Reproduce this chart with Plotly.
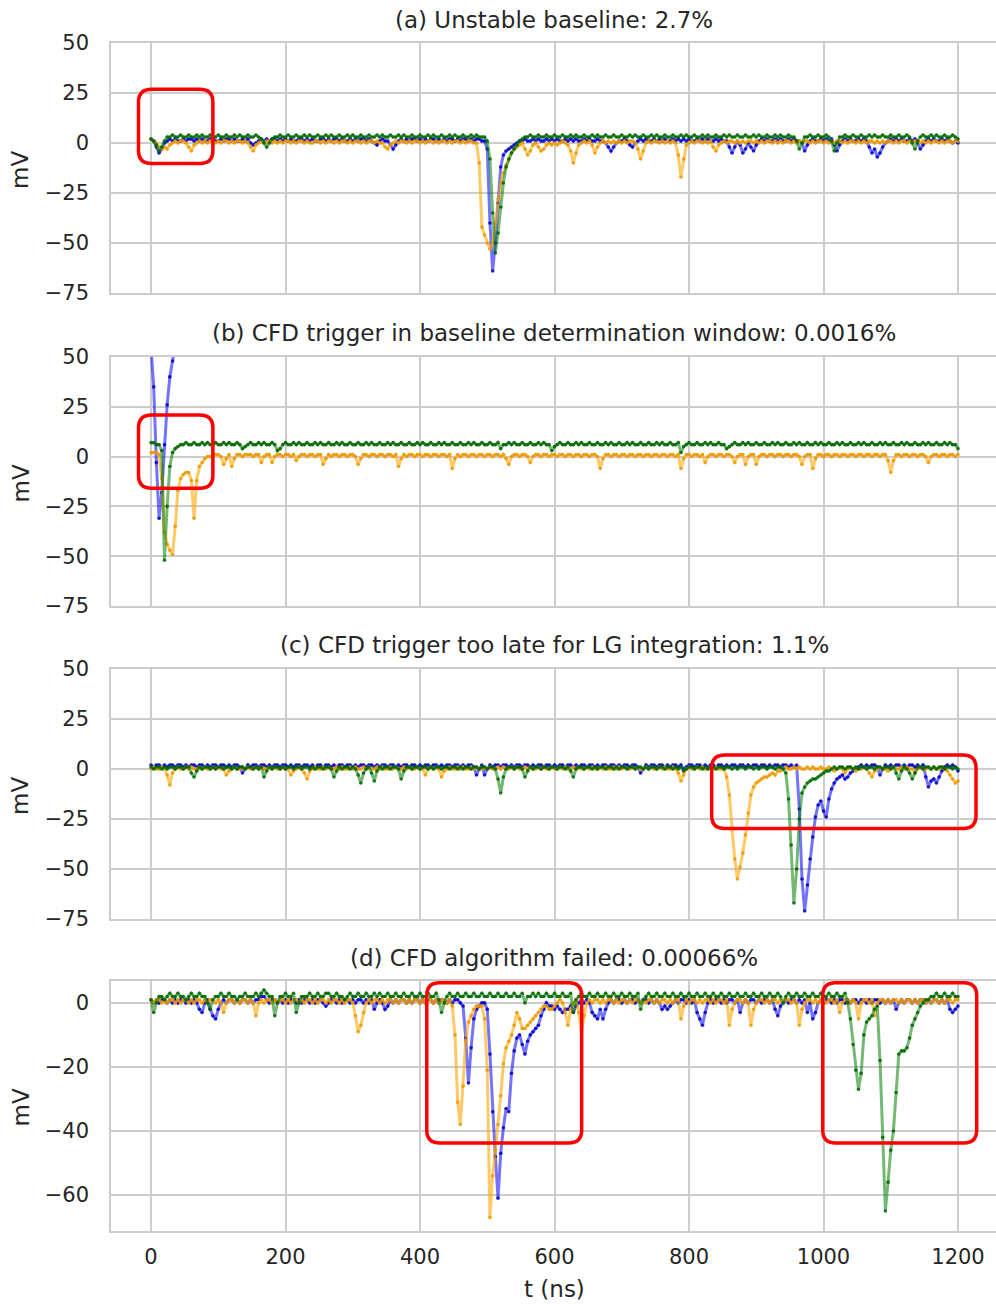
import plotly.graph_objects as go
from plotly.subplots import make_subplots

# Sampling grid of the digitiser traces (ns)
STEP_NS = 4
T_NS = list(range(0, 1201, STEP_NS))

# ---------------- (a) Unstable baseline ----------------
a_blue = [
    2, 1, -2, -5, -3, 0, 1, 2, 1, 2, 1, 1, 2, 1, 2, 2, 1, 2, 1, 2, 1, 1, 2, 2, 1,
    1, 2, 1, 2, 2, 1, 2, 1, 1, 2, 1, 2, 0, -1, 0, 1, 2, 1, 2, 1, 2, 2, 1, 2, 1,
    2, 1, 2, 1, 1, 2, 2, 1, 2, 1, 2, 1, 1, 2, 2, 1, 2, 1, 2, 2, 1, 2, 1, 1, 2,
    1, 2, 1, 2, 2, 1, 2, 1, 0, -1, 1, 2, 1, 1, -1, -3, -1, 1, 2, 1, 2, 1, 2, 2, 1,
    2, 1, 2, 1, 2, 2, 1, 2, 1, 2, 1, 2, 2, 1, 2, 1, 2, 2, 1, 2, 1, 2, 2, 1, 1,
    -3, -40, -64, -50, -30, -12, -6, -4, -3, -2, -1, 0, 1, 1, 2, 1, 1, 2, 1, 2, 1, 1, 2, 1, 2,
    1, 2, 1, 1, 2, 1, 2, 1, 2, 1, 1, 2, 1, 2, 1, 1, 2, 1, 1, 0, -2, -4, -2, 0, 1,
    1, 2, 1, -1, -2, 0, 1, 2, 1, 2, 1, 1, 2, 1, 2, 1, 2, 1, 1, 2, 1, 2, 1, 2, 1,
    2, 1, 1, 2, 1, 2, 1, 2, 1, 1, 2, 1, 2, 1, 1, -2, -5, -2, 1, -1, -5, -3, 0, -2, -4,
    -1, 1, 2, 1, 2, 1, 1, 2, 1, 2, 1, 1, 2, 1, 2, 1, 1, 0, -4, -1, 1, 2, 1, 1, 2,
    1, 2, 1, 2, -1, -4, -1, 1, 2, 1, 2, 1, 1, 2, 1, 2, 1, -2, -5, -3, -7, -5, -2, 0, 1,
    2, 1, 2, 1, 2, 1, 1, 2, 1, 2, 0, -3, -1, 1, 2, 1, 2, 1, 1, 2, 1, 2, 1, 0, 1,
    0,
]
a_orange = [
    2, 1, 0, -2, -3, -2, -3, -1, 0, 1, 0, 1, 1, 0, -2, -4, -1, 0, 1, 0, 1, 0, 1, 1, 0,
    1, 0, 1, 1, 0, 1, 0, 1, 1, 0, 1, 0, -2, -4, -1, 0, 1, 0, 1, 1, 0, 1, 0, 1, 0,
    1, 1, 0, 1, 0, 1, 1, 0, 1, 0, 0, 1, 1, 0, 1, 0, 1, 1, 0, 1, 0, 1, 1, 0, 1,
    0, 1, 1, 0, 1, 0, 1, 1, 0, 1, 0, 0, -2, -3, -1, 0, 1, 0, 1, 1, 0, 1, 0, 1, 1,
    0, 1, 0, 1, 1, 0, 1, 0, 1, 1, 0, 1, 0, 1, 1, 0, 1, 0, 1, 1, 0, 0, -10, -42, -46,
    -50, -53, -50, -40, -28, -20, -15, -11, -8, -5, -3, -2, -1, 0, -3, -6, -4, -1, 0, -2, -4, -3, -1, 0, -1,
    0, -1, 0, 1, 0, -1, -4, -10, -5, -1, 0, 1, 0, 1, -1, -5, -2, 0, 1, 0, 1, 0, 1, 0, 1,
    0, 1, 0, 1, 1, 0, -3, -8, -4, 0, 1, 0, 1, 1, 0, 1, 0, 1, 0, 1, 0, -6, -17, -8, -1,
    0, 1, 0, 1, 1, 0, 1, 0, 1, -2, -4, -1, 0, 1, 0, 1, 1, 0, 1, 0, 1, 0, 1, 1, 0,
    1, 0, 1, 0, 1, 1, 0, 1, 0, 1, 0, 1, 1, 0, 1, 0, 1, 0, 1, 1, 0, 1, 0, 1, 1,
    0, 1, 0, 1, 0, 1, 1, 0, 1, 0, 1, 1, 0, 1, 0, 1, 0, 1, 1, 0, 1, 0, 1, 0, 1,
    1, 0, 1, 0, 1, 1, 0, 1, 0, 1, 1, 0, 1, 0, 1, 0, 1, 1, 0, 1, 0, 1, 1, 0, 1,
    1,
]
a_green = [
    2, 1, -1, -4, -2, 1, 3, 3, 4, 3, 3, 4, 3, 3, 4, 3, 3, 4, 3, 4, 3, 3, 4, 3, 3,
    4, 3, 3, 4, 3, 3, 4, 3, 4, 3, 3, 4, 3, 3, 4, 3, 2, 0, -2, 0, 2, 3, 3, 4, 3,
    3, 4, 3, 3, 4, 3, 3, 4, 3, 4, 3, 3, 4, 3, 3, 4, 3, 4, 3, 3, 4, 3, 3, 4, 3,
    4, 3, 3, 4, 3, 3, 4, 3, 3, 4, 3, 4, 3, 3, 4, 3, 3, 4, 3, 4, 3, 3, 4, 3, 3,
    4, 3, 3, 4, 3, 4, 3, 3, 4, 3, 3, 4, 3, 4, 3, 3, 4, 3, 3, 4, 3, 4, 3, 3, 3,
    1, -8, -35, -55, -45, -32, -20, -12, -8, -5, -3, -1, 1, 2, 3, 3, 4, 3, 3, 4, 3, 3, 4, 3, 3,
    4, 3, 3, 4, 3, 3, 4, 3, 4, 3, 3, 4, 3, 3, 4, 3, 4, 3, 3, 4, 3, 3, 4, 3, 3,
    4, 3, 3, 4, 3, 4, 3, 3, 4, 3, 3, 4, 3, 4, 3, 3, 4, 3, 3, 4, 3, 3, 4, 3, 4,
    3, 3, 4, 3, 3, 4, 3, 4, 3, 3, 4, 3, 3, 4, 3, 4, 3, 3, 4, 3, 3, 4, 3, 3, 4,
    3, 4, 3, 3, 4, 3, 3, 4, 3, 4, 3, 3, 4, 3, 3, 1, -3, 0, 3, 3, 4, 3, 3, 4, 3,
    3, 4, 3, 1, -4, 0, 3, 3, 4, 3, 3, 4, 3, 3, 4, 3, 3, 4, 3, 4, 3, 3, 4, 3, 3,
    4, 3, 3, 4, 3, 3, 4, 3, 0, -3, 1, 3, 4, 3, 3, 4, 3, 4, 3, 3, 4, 3, 3, 4, 3,
    2,
]

# ---------------- (b) CFD trigger in baseline window ----------------
# blue channel leaves the +50 mV window after ~30 ns
b_blue = [55, 35, -3, -31, -18, 6, 26, 40, 48, 56, 64]
b_orange = [
    2, 2, 2, 1, -11, -38, -44, -47, -49, -35, -17, -11, -9, -8, -8, -12, -31, -12, -5, -3, -1, 0, 0, 1, 1,
    1, 0, -4, -1, 1, -5, -1, 1, 1, 0, 1, 1, 1, 0, 1, 1, -3, 0, 1, 1, -3, 0, 1, 1, 0,
    1, 1, 0, 1, -2, 0, 1, 1, 0, 1, 1, 0, 1, 1, -4, -1, 1, 0, 1, 1, 0, 1, 1, 0, 1,
    1, 0, -4, -1, 1, 1, 0, 1, 1, 0, 1, 1, 0, 1, 1, 0, 1, -5, -1, 1, 0, 1, 1, 0, 1,
    1, 0, 1, 1, 0, 1, 1, 0, 1, 1, 0, 1, -6, -1, 1, 0, 1, 1, 0, 1, 1, 0, 1, 1, 0,
    1, 1, 0, 1, 1, 0, 1, -1, -4, 0, 1, 1, 0, 1, 1, 0, -3, 0, 1, 1, 0, 1, 1, 0, 1,
    1, 0, 1, 1, 0, 1, 1, 0, 1, 1, 0, 1, 1, 0, 1, 1, 0, -6, -1, 1, 1, 0, 1, 1, 0,
    1, 1, 0, 1, 1, 0, 1, 1, 0, 1, 1, 0, 1, 1, 0, 1, 1, 0, 1, 1, 0, 1, -6, -1, 1,
    1, 0, 1, 1, 0, 1, -3, 0, 1, 1, 0, 1, 1, 0, 1, 1, 0, -3, 0, 1, 1, -4, 0, 1, 1,
    -4, 0, 1, 1, 0, 1, 1, 0, 1, 1, 0, 1, 1, 0, 1, 1, 0, -4, 0, 1, 1, -6, -1, 1, 1,
    0, 1, 1, 0, 1, 1, 0, 1, 1, 0, 1, 1, 0, 1, 1, 0, 1, 1, 0, 1, 1, 0, 1, 1, -2,
    -8, -2, 1, 1, 0, 1, 1, 0, 1, 1, 0, 1, 1, 0, -3, 0, 1, 1, 0, 1, 1, 0, 1, 1, 0,
    1,
]
b_green = [
    7, 7, 6, 6, 3, -52, -25, -5, 2, 4, 5, 6, 6, 7, 6, 6, 7, 6, 6, 7, 6, 7, 6, 6, 7,
    6, 6, 7, 6, 7, 6, 6, 7, 6, 4, 5, 6, 7, 6, 6, 7, 6, 7, 6, 6, 7, 6, 3, 4, 6,
    7, 6, 6, 7, 6, 7, 6, 6, 7, 6, 6, 7, 6, 7, 6, 6, 7, 6, 6, 7, 6, 7, 6, 6, 7,
    6, 6, 7, 6, 6, 7, 6, 7, 6, 6, 7, 6, 6, 7, 6, 7, 6, 6, 7, 6, 6, 7, 6, 6, 7,
    6, 7, 6, 6, 7, 6, 6, 7, 6, 7, 6, 6, 7, 6, 6, 7, 6, 6, 7, 6, 7, 6, 6, 7, 6,
    6, 7, 6, 6, 7, 4, 6, 6, 7, 6, 7, 6, 6, 7, 6, 6, 7, 6, 6, 7, 6, 7, 6, 6, 3,
    5, 6, 7, 6, 6, 7, 6, 6, 7, 6, 7, 6, 6, 7, 6, 6, 7, 6, 6, 7, 6, 7, 6, 6, 7,
    6, 6, 7, 6, 7, 6, 6, 7, 6, 6, 7, 6, 6, 7, 6, 7, 6, 6, 7, 6, 6, 7, 2, 5, 6,
    7, 6, 6, 7, 6, 6, 7, 6, 7, 6, 6, 7, 6, 6, 4, 5, 6, 7, 6, 6, 7, 6, 7, 6, 6,
    7, 6, 6, 7, 6, 6, 7, 6, 7, 6, 6, 7, 6, 6, 7, 6, 7, 6, 6, 7, 6, 6, 7, 6, 7,
    6, 6, 7, 6, 6, 7, 6, 7, 6, 6, 7, 6, 6, 7, 6, 7, 6, 6, 7, 6, 6, 7, 6, 7, 6,
    6, 7, 6, 6, 7, 6, 7, 6, 6, 7, 6, 6, 7, 6, 7, 6, 6, 7, 6, 6, 7, 6, 7, 6, 6,
    4,
]

# ---------------- (c) CFD trigger too late ----------------
c_blue = [
    2, 1, 2, 2, 1, 2, 1, 2, 2, 1, 2, 2, 1, 2, 1, 2, 2, 1, 2, 2, 1, 2, 1, 2, 2,
    1, 2, 2, 1, 2, 1, 2, 2, 1, -2, 0, 2, 1, 2, 2, 1, 2, 2, 1, 2, 1, 2, 2, 1, 2,
    2, 1, 2, 1, 2, 2, 1, 2, 2, 1, 2, 1, 2, 2, 1, 2, 2, 1, 2, 1, 2, 2, 1, 2, 2,
    1, 2, 1, 2, 2, 1, 2, 2, 1, 2, 1, 2, 2, 1, 2, 2, 1, 2, 1, 2, 2, 1, 2, 2, 1,
    2, 1, 2, 2, 1, 2, 2, 1, 2, 1, 2, 2, 1, 2, 2, 1, 2, 1, 2, 2, 1, -3, 0, 2, -3,
    0, 2, 1, 2, 2, 1, 2, 2, 1, 2, 1, 2, 2, 1, 2, 2, 1, 2, 1, 2, 2, 1, 2, 2, 1,
    2, 1, 2, 2, 1, 2, 2, 1, 2, 1, 2, 2, 1, 2, 2, 1, 2, 1, 2, 2, 1, 2, 2, 1, 2,
    1, 2, 2, 1, 2, 2, 1, -2, 0, 2, 1, 2, 2, 1, 2, 2, 1, 2, 1, 2, 2, 1, 2, 0, 1,
    2, 2, 1, 2, 2, 1, 2, 1, 2, 2, 1, 2, 2, 1, 2, 1, 2, 2, 1, 2, 2, 1, 2, 1, 2,
    2, 1, 2, 2, 1, 2, 1, 2, 2, 1, 2, 2, 1, 2, 1, 2, -20, -55, -71, -58, -45, -34, -24, -18, -16,
    -21, -24, -15, -10, -7, -5, -4, -3, -5, -4, -2, -1, 0, 1, 2, 1, 2, 1, 2, 2, 1, -3, 0, 2, 1,
    2, 1, 2, 2, 1, 2, 1, 2, 2, 1, 2, 1, 2, -4, -9, -6, -5, -7, -4, -1, 1, 2, 1, 2, 1,
    -1,
]
c_orange = [
    0, 1, 0, 0, 1, 0, -3, -8, -2, 0, 1, 0, 0, 1, 0, 1, 0, 0, 1, 0, 1, 0, 0, 1, 0,
    1, 0, 0, -3, -1, 0, 1, 0, 0, 1, 0, 1, 0, 0, 1, 0, 1, 0, 0, 1, 0, 1, 0, 0, 1,
    0, 0, -3, -1, 0, 1, 0, -2, -5, -1, 0, 1, 0, 0, 1, 0, 1, 0, 0, 1, 0, 1, 0, 0, 1,
    0, 1, 0, 0, 1, 0, 1, 0, 0, 1, 0, 1, 0, 0, 1, 0, 1, 0, 0, 1, 0, 1, 0, 0, 1,
    0, 0, -3, 0, 1, 0, 1, 0, -4, -1, 0, 1, 0, 0, 1, 0, 1, 0, 0, 1, 0, 1, 0, 0, 1,
    0, 1, 0, 0, 1, 0, 1, 0, 0, 1, 0, 1, 0, 0, 1, 0, 1, 0, 0, 1, 0, 1, 0, 0, 1,
    0, 0, 1, 0, 1, 0, 0, 1, 0, 1, 0, 0, 1, 0, 1, 0, 0, 1, 0, 1, 0, 0, 1, 0, 1,
    0, 1, 0, 0, 1, 0, 1, 0, 0, 1, 0, 1, 0, 0, 1, 0, 1, 0, 0, 1, 0, -2, -6, -3, 0,
    1, 0, 0, 1, 0, 1, 0, 0, 1, 0, 1, 0, 0, 0, -4, -13, -30, -45, -55, -49, -42, -33, -22, -13, -9,
    -7, -6, -5, -4, -4, -3, -2, -3, -1, -1, 0, 1, 0, 0, 1, 0, 1, 0, 0, 1, 0, 1, 0, 0, 1,
    0, 0, 1, 0, -1, 0, 1, 0, -2, 0, 1, 0, -1, 0, 0, 1, 0, -2, -4, -1, 0, 1, 0, 0, -1,
    0, 1, 0, 0, 1, 0, 1, 0, 0, -2, 0, 1, 0, 0, 1, 0, 1, 0, 0, 1, 0, -1, -3, -5, -7,
    -6,
]
c_green = [
    1, 0, 1, 1, 0, 1, 0, 1, 1, 0, 1, 1, 0, 1, 1, -2, -4, -1, 1, 0, 1, 1, 0, 1, 0,
    1, 1, 0, 1, 1, 0, 1, 0, 1, 1, 0, 1, 1, 0, 1, 0, 1, -4, -1, 1, 0, 1, 1, 0, 1,
    0, 1, 1, 0, 1, 1, 0, 1, 1, 0, 1, 0, 1, 1, 0, 1, 1, 0, -4, -1, 1, 0, 1, 1, 0,
    1, 0, -3, -7, -2, 0, 1, -2, -6, -1, 1, 0, 1, 1, 0, 1, 1, 0, -5, -1, 1, 1, 0, 1, 1,
    0, 1, 1, 0, 1, 0, 1, 1, 0, 1, 1, 0, 1, 1, 0, 1, 0, 1, 1, 0, 1, 1, 0, 1, 1,
    0, 1, 1, 0, -5, -12, -4, 0, 1, 1, 0, 1, 1, 0, -4, -1, 1, 0, 1, 1, 0, 1, 1, 0, 1,
    1, 0, 1, 1, 0, 1, -1, -4, 0, 1, 1, 0, 1, 1, 0, 1, 0, 1, 1, 0, 1, 1, 0, 1, 0,
    1, 1, 0, 1, 1, 0, 1, 1, 0, 1, 0, 1, 1, 0, 1, 1, 0, 1, 1, 0, 1, 0, 1, -1, 0,
    1, 1, 0, 1, 1, 0, 1, 0, 1, 1, 0, 1, 1, 0, 1, 1, 0, 1, 0, 1, 1, 0, 1, 1, 0,
    1, 0, 1, 1, 0, 1, 1, 0, 1, 1, 0, -2, -15, -38, -67, -50, -25, -12, -9, -7, -6, -5, -5, -4, -3,
    -2, -1, -1, 0, 1, 0, 1, 1, 0, 1, 1, 0, 1, 0, 1, 1, 0, 1, 1, 0, 1, 1, 0, 1, 1,
    0, 1, -2, -5, -1, 1, 0, -2, -5, -2, 1, 1, 0, 1, 1, 0, 1, 0, 1, 1, 0, 1, 1, 0, 1,
    0,
]

# ---------------- (d) CFD algorithm failed ----------------
d_blue = [
    1, 0, 1, 0, 1, 1, 0, 1, 0, 1, 0, 1, 1, 0, 1, 0, 1, 0, -2, -3, 0, 1, -2, -4, -5,
    -2, 0, 1, 0, 1, 1, 0, 1, 0, 1, 1, 0, 1, 0, 1, 1, 2, 2, 1, 0, 1, 1, 0, 1, 0,
    1, 0, 1, 1, 0, 1, 0, 1, 1, 0, 1, 0, 1, 1, 0, -1, 0, 1, 1, 0, 1, 0, 1, 1, 0,
    1, 0, 1, 1, 0, 1, 0, 1, -2, 0, 1, 0, -2, -1, 1, 0, 1, 0, 1, 1, 0, 1, 0, 1, 1,
    0, 1, 0, 1, 1, 0, 1, 0, 1, 1, 0, 1, 0, 1, 1, 0, -1, -11, -25, -14, -5, -2, -1, 0, 0,
    -2, -16, -34, -48, -61, -47, -39, -33, -34, -22, -15, -11, -10, -13, -16, -12, -10, -9, -8, -7, -4, -2, 0, -1, -1,
    -2, -1, -2, -3, -2, -2, -1, -3, -1, 0, 1, 0, 1, 0, -3, -4, -5, -2, -5, -2, 0, 1, 0, 1, 1,
    0, 1, 0, 1, 1, 0, 1, 0, 1, 1, 0, 1, 0, 1, 0, -2, -1, -2, -1, 0, 1, 0, 1, 1, 0,
    1, 0, 1, -3, -5, -7, -3, 0, 1, 0, 1, 1, 0, 1, 0, 1, 1, 0, 1, -3, 0, 1, 0, 1, 1,
    0, 1, 0, 1, 1, 0, 1, -2, -4, -1, 0, 1, 0, 1, 1, 0, 1, 0, 1, -3, 0, -5, -3, 0, 1,
    0, 1, 1, 0, 1, 0, 1, 1, 0, 1, 0, 1, 1, 0, 1, 1, 0, 1, 0, 1, 1, 0, 1, 0, 1,
    0, 1, -2, 0, 1, 0, 1, 1, 0, 1, 0, 1, 1, 0, 1, 0, 1, 1, 0, 1, 0, 1, -2, -3, -2,
    -1,
]
d_orange = [
    1, 0, 1, 1, 0, 1, 0, 1, 1, 0, 1, 0, 1, 1, 0, 1, 0, 1, 1, 0, 1, 0, 1, 1, 0,
    1, 0, -3, 0, 1, 1, 0, 1, 0, 1, 1, 0, 1, 0, -4, 0, 1, 0, 1, 1, 0, 1, 0, 1, 1,
    0, 1, 0, 1, 1, 0, 1, 0, 1, 1, 0, 1, 0, 1, 1, 0, 1, 0, 1, 1, 0, 1, 0, 1, 1,
    0, -4, -9, -7, -3, 0, 1, 0, 1, 1, 0, 1, 0, 1, 1, 0, 1, 0, 1, 1, 0, 1, 0, 1, 1,
    0, 1, 0, 1, 1, 0, 1, 0, 1, 1, 0, 1, -1, -10, -31, -38, -26, -12, -6, -4, -2, -1, -1, -1, -5,
    -21, -67, -54, -46, -38, -29, -19, -14, -12, -10, -7, -3, -5, -8, -8, -7, -6, -5, -4, -3, -2, -1, -1, -2, -2,
    -1, 0, 1, 0, -3, -7, -2, 0, 1, -3, -9, -4, 0, 1, 0, 1, 1, 0, 1, 0, 1, 1, 0, 1, 0,
    1, 1, 0, 1, 0, 1, 1, 0, 1, 0, 1, 1, 0, 1, 0, 1, 1, 0, 1, 0, 1, 1, -5, -1, 1,
    0, 1, 1, 0, 1, 0, 1, 1, 0, 1, 0, 1, 1, 0, 1, -7, -2, 0, 1, 1, 0, 1, 0, -7, -2,
    0, 1, 1, 0, 1, 0, 1, 1, 0, 1, 0, 1, 1, 0, 1, 0, -7, -2, 0, 1, 1, 0, 1, 0, 1,
    1, 0, 1, 1, 0, 1, -3, 0, 1, 1, 0, 1, 0, -5, 0, 1, 1, 0, 1, -4, 0, 1, 1, 0, 1,
    0, 1, 1, 0, 1, 0, 1, 1, 0, 1, 0, 1, 1, 0, 1, 0, 1, 1, 0, 1, 0, 1, 1, 0, 1,
    1,
]
d_green = [
    1, -3, 0, 2, 2, 1, 2, 3, 2, 2, 3, 2, 2, 1, 2, 3, 2, 2, 3, 2, 2, 0, -2, 1, 2,
    2, 3, 2, 2, 3, 2, 2, 1, 2, 2, 3, 2, 2, 2, 3, 2, 3, 4, 3, 2, 2, -4, 0, 2, 2,
    3, 2, 2, 3, -3, 0, 2, 2, 2, 3, 2, 2, 3, 2, 2, 3, 3, 2, 2, 3, 2, 2, 1, 2, 3,
    2, 2, 3, 2, 2, 3, 2, 2, 3, 2, 3, 2, 2, 3, 2, 2, 3, 2, 2, 3, 2, 2, 3, 2, 2,
    3, 2, 2, 3, 2, 2, 3, 1, -3, 0, 2, 3, 2, 2, 3, 2, 2, 3, 2, 2, 3, 2, 2, 3, 2,
    2, 3, 2, 2, 3, 2, 2, 3, 2, 2, 3, 2, 2, 3, 0, 2, 2, 3, 2, 3, 2, 2, 3, 2, 2,
    3, 2, 2, 3, 2, 2, 3, -3, 1, 2, 3, 2, 2, 3, 2, 2, 3, 2, 2, 3, 2, 2, 3, 2, 2,
    3, 2, 2, 3, 2, 2, 3, -2, 1, 2, 3, 2, 2, 3, 2, 2, 3, 2, 2, 3, 2, 2, 3, 2, 2,
    3, 2, 2, 3, 2, 2, 3, 2, 2, 3, 2, 2, 3, 2, 2, 3, 2, 2, 3, 2, 2, 3, 2, 2, 3,
    2, 2, 3, 2, 2, 3, 2, 2, 3, 2, 0, 2, 3, 2, 2, 3, 2, 2, 3, 2, 2, 3, 2, 2, 3,
    2, 2, 3, 2, 2, 3, 2, 2, 3, 0, -5, -13, -21, -27, -22, -10, -6, -5, -4, -2, -1, -18, -42, -65, -56,
    -46, -40, -28, -16, -15, -15, -14, -11, -7, -5, -3, -1, 0, 1, 1, 2, 2, 3, 2, 2, 3, 2, 2, 3, 2,
    2,
]

PANEL_TITLES = [
    "(a) Unstable baseline: 2.7%",
    "(b) CFD trigger in baseline determination window: 0.0016%",
    "(c) CFD trigger too late for LG integration: 1.1%",
    "(d) CFD algorithm failed: 0.00066%",
]
PANEL_TRACES = [
    [("blue", a_blue), ("orange", a_orange), ("green", a_green)],
    [("blue", b_blue), ("orange", b_orange), ("green", b_green)],
    [("blue", c_blue), ("orange", c_orange), ("green", c_green)],
    [("blue", d_blue), ("orange", d_orange), ("green", d_green)],
]
X_TICKS = [0, 200, 400, 600, 800, 1000, 1200]
Y_TICKS_ABC = [-75, -50, -25, 0, 25, 50]
Y_TICKS_D = [-60, -40, -20, 0]

# highlighted regions: (panel, t_start, t_end, mV_low, mV_high)
HIGHLIGHTS = [
    (1, -18.6, 92.0, -10.2, 26.9),
    (2, -18.6, 92.0, -15.9, 20.9),
    (3, 833.7, 1226.8, -29.7, 7.0),
    (4, 410.0, 640.4, -43.8, 6.3),
    (4, 998.8, 1227.8, -43.8, 6.3),
]

LINE_RGBA = {
    "blue": "rgba(0,0,255,0.55)",
    "orange": "rgba(255,165,0,0.6)",
    "green": "rgba(0,128,0,0.55)",
}
DOT_RGBA = {
    "blue": "rgba(0,0,190,0.85)",
    "orange": "rgba(235,150,0,0.85)",
    "green": "rgba(0,100,0,0.85)",
}

FIG_W, FIG_H = 996, 1304
PLOT_LEFT = 111
FONT = "DejaVu Sans"
TEXT_COLOR = "#262626"
GRID = "#cccccc"

# vertical extents of each panel (pixels from top)
PANEL_PX = [(43, 293), (357, 606), (669, 919), (980.5, 1230.5)]
Y_RANGES = [[-75, 50], [-75, 50], [-75, 50], [-71.1, 7.0]]
X_RANGE = [-59.5, 1256.5]


def py(px):
    return 1 - px / FIG_H


def px_x(px):
    return (px - PLOT_LEFT) / (FIG_W - PLOT_LEFT)


fig = make_subplots(rows=4, cols=1, shared_xaxes=True, vertical_spacing=0.02)

for row, traces in enumerate(PANEL_TRACES, start=1):
    for color, values in traces:
        fig.add_trace(
            go.Scatter(
                x=T_NS[: len(values)],
                y=values,
                mode="lines+markers",
                line=dict(color=LINE_RGBA[color], width=3.0),
                marker=dict(color=DOT_RGBA[color], size=3.6),
                showlegend=False,
                hoverinfo="skip",
            ),
            row=row,
            col=1,
        )

for i in range(4):
    top, bottom = PANEL_PX[i]
    sfx = "" if i == 0 else str(i + 1)
    yt = Y_TICKS_D if i == 3 else Y_TICKS_ABC
    fig.layout["yaxis" + sfx].update(
        domain=[py(bottom), py(top)],
        range=Y_RANGES[i],
        automargin=False,
        tickvals=yt,
        ticktext=[("\u2212" + str(-v)) if v < 0 else str(v) for v in yt],
        showgrid=True,
        gridcolor=GRID,
        gridwidth=1.6,
        zeroline=False,
        showline=True,
        linecolor=GRID,
        linewidth=1.6,
        mirror=True,
        ticks="outside",
        ticklen=16,
        tickcolor="rgba(0,0,0,0)",
        tickfont=dict(family=FONT, size=21, color=TEXT_COLOR),
    )
    fig.layout["xaxis" + sfx].update(
        domain=[0, 1],
        range=X_RANGE,
        automargin=False,
        tickvals=X_TICKS,
        ticktext=[str(v) for v in X_TICKS],
        showticklabels=(i == 3),
        showgrid=True,
        gridcolor=GRID,
        gridwidth=1.6,
        zeroline=False,
        showline=True,
        linecolor=GRID,
        linewidth=1.6,
        mirror=True,
        ticks="outside" if i == 3 else "",
        ticklen=6,
        tickcolor="rgba(0,0,0,0)",
        tickfont=dict(family=FONT, size=21, color=TEXT_COLOR),
    )

annotations = []
TITLE_PX = [20, 333, 645, 958]
for i, title in enumerate(PANEL_TITLES):
    annotations.append(dict(
        text=title, xref="paper", yref="paper", x=px_x(554), y=py(TITLE_PX[i]),
        xanchor="center", yanchor="middle", showarrow=False,
        font=dict(family=FONT, size=23, color=TEXT_COLOR),
    ))
    top, bottom = PANEL_PX[i]
    annotations.append(dict(
        text="mV", xref="paper", yref="paper", x=px_x(20), y=py((top + bottom) / 2 + 2),
        xanchor="center", yanchor="middle", textangle=-90, showarrow=False,
        font=dict(family=FONT, size=23, color=TEXT_COLOR),
    ))
annotations.append(dict(
    text="t (ns)", xref="paper", yref="paper", x=px_x(554), y=py(1289),
    xanchor="center", yanchor="middle", showarrow=False,
    font=dict(family=FONT, size=23, color=TEXT_COLOR),
))


def rounded_box(x0, x1, y0, y1, rx, ry):
    return (
        f"M {x0 + rx},{y1} L {x1 - rx},{y1} Q {x1},{y1} {x1},{y1 - ry} "
        f"L {x1},{y0 + ry} Q {x1},{y0} {x1 - rx},{y0} "
        f"L {x0 + rx},{y0} Q {x0},{y0} {x0},{y0 + ry} "
        f"L {x0},{y1 - ry} Q {x0},{y1} {x0 + rx},{y1} Z"
    )


CORNER_PX = 13
shapes = []
for panel, t0, t1, v0, v1 in HIGHLIGHTS:
    i = panel - 1
    top, bottom = PANEL_PX[i]
    mv_per_px = (Y_RANGES[i][1] - Y_RANGES[i][0]) / (bottom - top)
    ns_per_px = (X_RANGE[1] - X_RANGE[0]) / (FIG_W - PLOT_LEFT)
    sfx = "" if panel == 1 else str(panel)
    shapes.append(dict(
        type="path", xref="x" + sfx, yref="y" + sfx,
        path=rounded_box(t0, t1, v0, v1, CORNER_PX * ns_per_px, CORNER_PX * mv_per_px),
        line=dict(color="#ff0000", width=3.5), fillcolor="rgba(0,0,0,0)", layer="above",
    ))

fig.update_layout(
    width=FIG_W,
    height=FIG_H,
    margin=dict(l=PLOT_LEFT, r=0, t=0, b=0, autoexpand=False),
    paper_bgcolor="white",
    plot_bgcolor="white",
    font=dict(family=FONT, color=TEXT_COLOR),
    annotations=annotations,
    shapes=shapes,
    showlegend=False,
)

fig.write_html("out.html")
